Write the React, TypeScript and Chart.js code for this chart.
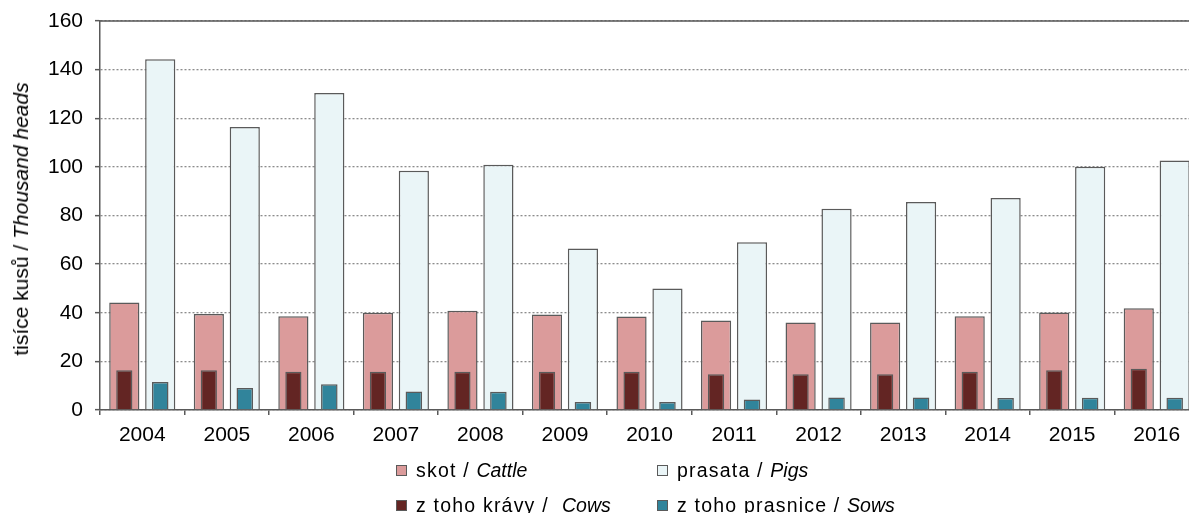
import React, { useEffect, useRef } from "react";
import { Chart, registerables } from "chart.js";

Chart.register(...registerables);

const years = ["2004", "2005", "2006", "2007", "2008", "2009", "2010", "2011", "2012", "2013", "2014", "2015", "2016"];
const cattle = [44.2, 39.5, 38.6, 40.0, 40.8, 39.3, 38.5, 36.8, 36.0, 36.0, 38.6, 40.1, 41.8];
const pigs = [144.3, 116.4, 130.4, 98.4, 100.9, 66.4, 50.0, 69.0, 82.8, 85.6, 87.2, 100.1, 102.6];
const cows = [16.4, 16.4, 15.7, 15.7, 15.7, 15.7, 15.7, 14.7, 14.7, 14.7, 15.7, 16.4, 17.0];
const sows = [11.5, 9.1, 10.6, 7.6, 7.5, 3.3, 3.3, 4.3, 5.1, 5.1, 4.9, 5.0, 5.0];

const yTicks = [0, 20, 40, 60, 80, 100, 120, 140, 160];

const legendItems = [
  { plain: "skot / ", italic: "Cattle", color: "#DB9B9B", left: 396, top: 458 },
  { plain: "prasata / ", italic: "Pigs", color: "#EAF5F7", left: 657, top: 458 },
  { plain: "z toho krávy /  ", italic: "Cows", color: "#632523", left: 396, top: 493 },
  { plain: "z toho prasnice / ", italic: "Sows", color: "#31849B", left: 657, top: 493 },
];

const FONT = "'Liberation Sans', Arial, sans-serif";
const BORDER = "#5A5A5A";

export default function App() {
  const ref = useRef<HTMLCanvasElement | null>(null);

  useEffect(() => {
    if (!ref.current) return;
    const topLine = {
      id: "topLine",
      afterDraw(chart: any) {
        const { ctx, chartArea } = chart;
        ctx.save();
        ctx.strokeStyle = "#595959";
        ctx.lineWidth = 1.5;
        ctx.beginPath();
        ctx.moveTo(chartArea.left, chartArea.top);
        ctx.lineTo(chartArea.right, chartArea.top);
        ctx.stroke();
        ctx.restore();
      },
    };
    const common = { borderColor: BORDER, borderWidth: 1.5, categoryPercentage: 0.85 };
    const chart = new Chart(ref.current, {
      type: "bar",
      data: {
        labels: years,
        datasets: [
          { ...common, label: "skot / Cattle", data: cattle, backgroundColor: "#DB9B9B", stack: "a", order: 2, barPercentage: 0.84 },
          { ...common, label: "prasata / Pigs", data: pigs, backgroundColor: "#EAF5F7", stack: "b", order: 2, barPercentage: 0.84 },
          { ...common, label: "z toho krávy / Cows", data: cows, backgroundColor: "#632523", stack: "a", order: 1, barPercentage: 0.45 },
          { ...common, label: "z toho prasnice / Sows", data: sows, backgroundColor: "#31849B", stack: "b", order: 1, barPercentage: 0.46 },
        ],
      },
      options: {
        animation: false,
        responsive: false,
        maintainAspectRatio: false,
        layout: { padding: { top: 21, right: 1, bottom: 53, left: 0 } },
        plugins: { legend: { display: false }, tooltip: { enabled: false } },
        scales: {
          x: {
            type: "category",
            stacked: true,
            offset: true,
            grid: { display: true, drawOnChartArea: false, drawTicks: true, tickLength: 5, offset: true, color: "#595959", lineWidth: 1.5 },
            border: { display: true, color: "#595959", width: 1.5 },
            ticks: { color: "#000", font: { family: FONT, size: 21 }, padding: 8, maxRotation: 0, autoSkip: false },
            afterFit: (s: any) => { s.height = 50; },
          },
          y: {
            stacked: false,
            min: 0,
            max: 160,
            afterBuildTicks: (s: any) => { s.ticks = yTicks.map((v) => ({ value: v })); },
            grid: { color: "#8C8C8C", lineWidth: 1.3, drawTicks: true, tickLength: 5, tickColor: "#595959", tickWidth: 1.5, tickBorderDash: [10, 0] },
            border: { display: true, color: "#595959", width: 1.5, dash: [2, 2] },
            ticks: { color: "#000", font: { family: FONT, size: 21, lineHeight: 1 }, padding: 12 },
            afterFit: (s: any) => { s.width = 100; s.paddingTop = 0; s.paddingBottom = 0; },
          },
        },
      },
      plugins: [topLine],
    } as any);
    return () => chart.destroy();
  }, []);

  return (
    <div style={{ position: "absolute", left: 0, top: 0, width: 1200, height: 513, overflow: "hidden", background: "#fff" }}>
      <canvas ref={ref} width={1200} height={513} style={{ display: "block", width: 1200, height: 513 }} />
      <div
        style={{
          position: "absolute",
          left: 21,
          top: 219,
          transform: "translate(-50%, -50%) rotate(-90deg)",
          whiteSpace: "nowrap",
          fontFamily: FONT,
          fontSize: 21,
          color: "#000",
        }}
      >
        tisíce kusů / <i>Thousand heads</i>
      </div>
      {legendItems.map((it) => (
        <div
          key={it.plain}
          style={{ position: "absolute", left: it.left, top: it.top, display: "flex", alignItems: "center", whiteSpace: "pre", fontFamily: FONT, fontSize: 19.5, color: "#000", height: 24 }}
        >
          <span style={{ display: "inline-block", width: 9, height: 9, background: it.color, border: `1.5px solid ${BORDER}`, marginRight: 9 }} />
          <span style={{ letterSpacing: 1.2 }}>{it.plain}</span>
          <i>{it.italic}</i>
        </div>
      ))}
    </div>
  );
}
